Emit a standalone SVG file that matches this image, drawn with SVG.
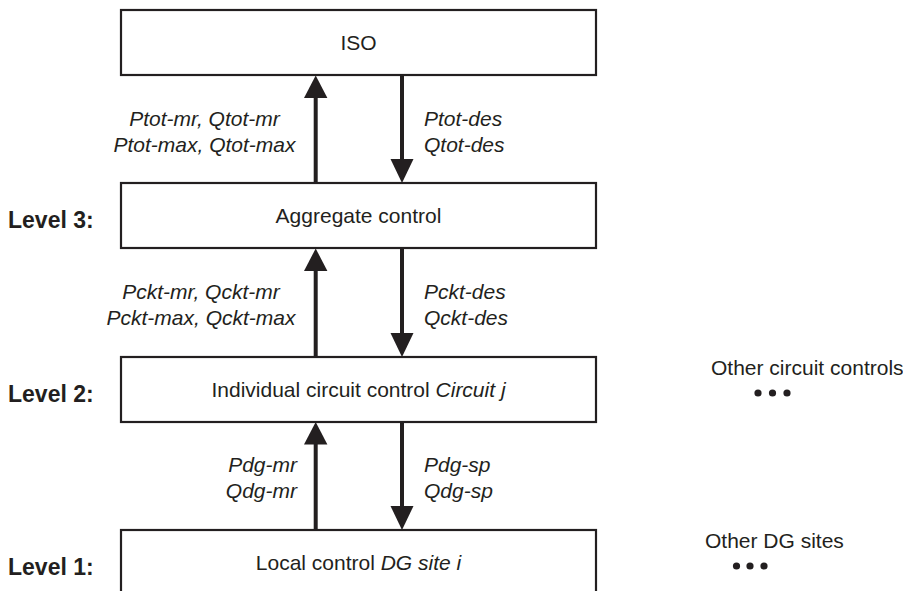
<svg xmlns="http://www.w3.org/2000/svg" width="903" height="591" viewBox="0 0 903 591">
<style>
.box{fill:#fff;stroke:#231f20;stroke-width:2.2}
.t{font-family:"Liberation Sans",Arial,sans-serif;font-size:21px;fill:#231f20}
.it{font-style:italic}
.lvl{font-family:"Liberation Sans",Arial,sans-serif;font-size:23px;font-weight:bold;fill:#231f20}
.ln{stroke:#231f20;stroke-width:4;fill:none}
.hd{fill:#231f20}
.dot{fill:#231f20}
</style>
<rect width="903" height="591" fill="#fff"/>
<g id="connectors">
  <line class="ln" x1="315.7" y1="183" x2="315.7" y2="96"/>
  <polygon class="hd" points="315.7,75.5 304,98 327.4,98"/>
  <line class="ln" x1="402" y1="75" x2="402" y2="161"/>
  <polygon class="hd" points="402,183 390.5,159 413.5,159"/>
  <line class="ln" x1="315.7" y1="357" x2="315.7" y2="270"/>
  <polygon class="hd" points="315.7,248.5 304,271 327.4,271"/>
  <line class="ln" x1="402" y1="248" x2="402" y2="335"/>
  <polygon class="hd" points="402,357 390.5,333 413.5,333"/>
  <line class="ln" x1="315.7" y1="530" x2="315.7" y2="443"/>
  <polygon class="hd" points="315.7,422 304,444.5 327.4,444.5"/>
  <line class="ln" x1="402" y1="421" x2="402" y2="508"/>
  <polygon class="hd" points="402,530 390.5,506 413.5,506"/>
</g>
<g id="labels">
  <text class="t it" x="204.5" y="125.6" text-anchor="middle">Ptot-mr, Qtot-mr</text>
  <text class="t it" x="204.5" y="151.7" text-anchor="middle">Ptot-max, Qtot-max</text>
  <text class="t it" x="424" y="125.6">Ptot-des</text>
  <text class="t it" x="424" y="151.7">Qtot-des</text>
  <text class="t it" x="201" y="299" text-anchor="middle">Pckt-mr, Qckt-mr</text>
  <text class="t it" x="201" y="325" text-anchor="middle">Pckt-max, Qckt-max</text>
  <text class="t it" x="424" y="299">Pckt-des</text>
  <text class="t it" x="424" y="325">Qckt-des</text>
  <text class="t it" x="297" y="472" text-anchor="end">Pdg-mr</text>
  <text class="t it" x="297" y="498" text-anchor="end">Qdg-mr</text>
  <text class="t it" x="424" y="472">Pdg-sp</text>
  <text class="t it" x="424" y="498">Qdg-sp</text>
</g>
<g id="iso">
  <rect class="box" x="121" y="10" width="475" height="65"/>
  <text class="t" x="358.5" y="50" text-anchor="middle">ISO</text>
</g>
<g id="aggregate">
  <rect class="box" x="121" y="183" width="475" height="65"/>
  <text class="t" x="358.5" y="223" text-anchor="middle">Aggregate control</text>
  <text class="lvl" x="8" y="228">Level 3:</text>
</g>
<g id="circuit">
  <rect class="box" x="121" y="357" width="475" height="65"/>
  <text class="t" x="358.5" y="397" text-anchor="middle">Individual circuit control <tspan class="it">Circuit j</tspan></text>
  <text class="lvl" x="8" y="402">Level 2:</text>
</g>
<g id="local">
  <rect class="box" x="121" y="530" width="475" height="65"/>
  <text class="t" x="358.5" y="570" text-anchor="middle">Local control <tspan class="it">DG site i</tspan></text>
  <text class="lvl" x="8" y="575">Level 1:</text>
</g>
<g id="other-circuits">
  <text class="t" x="711" y="375">Other circuit controls</text>
  <circle class="dot" cx="758" cy="393" r="3.6"/>
  <circle class="dot" cx="772.5" cy="393" r="3.6"/>
  <circle class="dot" cx="787" cy="393" r="3.6"/>
</g>
<g id="other-dg">
  <text class="t" x="705" y="548">Other DG sites</text>
  <circle class="dot" cx="736.5" cy="566" r="3.6"/>
  <circle class="dot" cx="750" cy="566" r="3.6"/>
  <circle class="dot" cx="764" cy="566" r="3.6"/>
</g>
</svg>
